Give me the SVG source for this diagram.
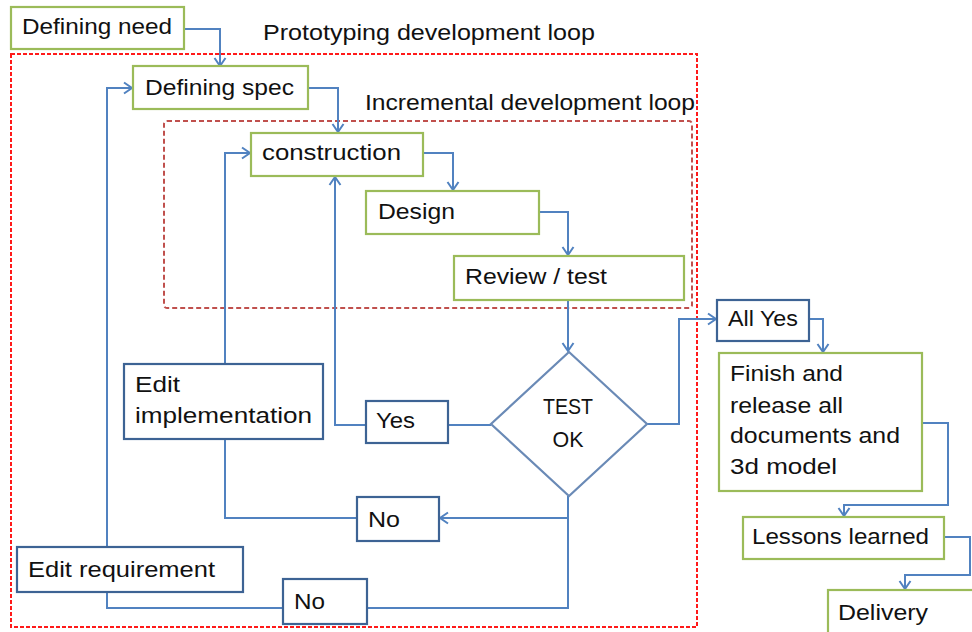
<svg xmlns="http://www.w3.org/2000/svg" width="972" height="632" viewBox="0 0 972 632">
<style>
text{font-family:"Liberation Sans",Arial,sans-serif;font-size:22px;fill:#111;}
.g{fill:#fff;stroke:#9bbb59;stroke-width:2.2;}
.b{fill:#fff;stroke:#3d6394;stroke-width:2.2;}
.d{fill:#fff;stroke:#6a8ab6;stroke-width:2.2;}
.c{fill:none;stroke:#5182c0;stroke-width:2;}
.ca{fill:none;stroke:#5182c0;stroke-width:2;marker-end:url(#ah);}
</style>
<defs>
<marker id="ah" markerUnits="userSpaceOnUse" markerWidth="14" markerHeight="14" viewBox="-10 -7 12 14" refX="0" refY="0" orient="auto">
<path d="M-8,-5.5 L0,0 L-8,5.5" fill="none" stroke="#5182c0" stroke-width="2"/>
</marker>
</defs>
<rect width="972" height="632" fill="#fff"/>
<g id="loops">
<rect x="11" y="54" width="686" height="573" fill="none" stroke="#ff1a1a" stroke-width="2" stroke-dasharray="4 2"/>
<rect x="164" y="121" width="528" height="187" rx="3" fill="none" stroke="#c0504d" stroke-width="2" stroke-dasharray="5 3"/>
<text x="263" y="40" textLength="332" lengthAdjust="spacingAndGlyphs">Prototyping development loop</text>
<text x="365" y="110" textLength="330" lengthAdjust="spacingAndGlyphs">Incremental development loop</text>
</g>
<g id="connectors">
<path class="ca" d="M184,29 H220 V66"/>
<path class="ca" d="M308,88 H338 V132"/>
<path class="ca" d="M107,547 V88 H132"/>
<path class="ca" d="M225,364 V153 H250"/>
<path class="ca" d="M423,153 H453 V190"/>
<path class="ca" d="M539,212 H568 V255"/>
<path class="ca" d="M568,300 V351"/>
<path class="c" d="M491,425 H448"/>
<path class="ca" d="M366,425 H335 V177"/>
<path class="ca" d="M568,496 V518 H440"/>
<path class="c" d="M357,518 H225 V439"/>
<path class="c" d="M568,518 V608 H367"/>
<path class="c" d="M283,608 H107 V592"/>
<path class="ca" d="M647,424 H679 V319 H716"/>
<path class="ca" d="M809,319 H823 V352"/>
<path class="ca" d="M922,423 H948 V505 H844 V516"/>
<path class="ca" d="M944,537 H970 V575 H905 V589"/>
</g>
<g id="defining-need"><rect class="g" x="11" y="7" width="173" height="42"/><text x="22" y="34" textLength="150" lengthAdjust="spacingAndGlyphs">Defining need</text></g>
<g id="defining-spec"><rect class="g" x="133" y="66" width="175" height="43"/><text x="145" y="95" textLength="149" lengthAdjust="spacingAndGlyphs">Defining spec</text></g>
<g id="construction"><rect class="g" x="251" y="133" width="172" height="43"/><text x="262" y="160" textLength="139" lengthAdjust="spacingAndGlyphs">construction</text></g>
<g id="design"><rect class="g" x="366" y="191" width="173" height="43"/><text x="378" y="219" textLength="77" lengthAdjust="spacingAndGlyphs">Design</text></g>
<g id="review-test"><rect class="g" x="454" y="256" width="230" height="44"/><text x="465" y="284" textLength="142" lengthAdjust="spacingAndGlyphs">Review / test</text></g>
<g id="test-ok"><polygon class="d" points="569,352 647,424 569,496 491,424"/><text x="568" y="414" text-anchor="middle" textLength="50" lengthAdjust="spacingAndGlyphs">TEST</text><text x="568" y="447" text-anchor="middle" textLength="31" lengthAdjust="spacingAndGlyphs">OK</text></g>
<g id="yes"><rect class="b" x="366" y="401" width="82" height="42"/><text x="376" y="428" textLength="39" lengthAdjust="spacingAndGlyphs">Yes</text></g>
<g id="edit-implementation"><rect class="b" x="124" y="364" width="199" height="75"/><text x="135" y="392" textLength="45" lengthAdjust="spacingAndGlyphs">Edit</text><text x="135" y="423" textLength="177" lengthAdjust="spacingAndGlyphs">implementation</text></g>
<g id="no-1"><rect class="b" x="357" y="497" width="82" height="44"/><text x="368" y="527" textLength="32" lengthAdjust="spacingAndGlyphs">No</text></g>
<g id="edit-requirement"><rect class="b" x="17" y="547" width="226" height="45"/><text x="28" y="577" textLength="187" lengthAdjust="spacingAndGlyphs">Edit requirement</text></g>
<g id="no-2"><rect class="b" x="283" y="579" width="84" height="45"/><text x="294" y="609" textLength="31" lengthAdjust="spacingAndGlyphs">No</text></g>
<g id="all-yes"><rect class="b" x="717" y="300" width="92" height="41"/><text x="728" y="326" textLength="70" lengthAdjust="spacingAndGlyphs">All Yes</text></g>
<g id="finish"><rect class="g" x="719" y="353" width="203" height="138"/><text x="730" y="381" textLength="113" lengthAdjust="spacingAndGlyphs">Finish and</text><text x="730" y="413" textLength="113" lengthAdjust="spacingAndGlyphs">release all</text><text x="730" y="443" textLength="170" lengthAdjust="spacingAndGlyphs">documents and</text><text x="730" y="474" textLength="107" lengthAdjust="spacingAndGlyphs">3d model</text></g>
<g id="lessons-learned"><rect class="g" x="743" y="517" width="201" height="42"/><text x="752" y="544" textLength="177" lengthAdjust="spacingAndGlyphs">Lessons learned</text></g>
<g id="delivery"><rect class="g" x="828" y="590" width="160" height="60"/><text x="838" y="620" textLength="90" lengthAdjust="spacingAndGlyphs">Delivery</text></g>
</svg>
